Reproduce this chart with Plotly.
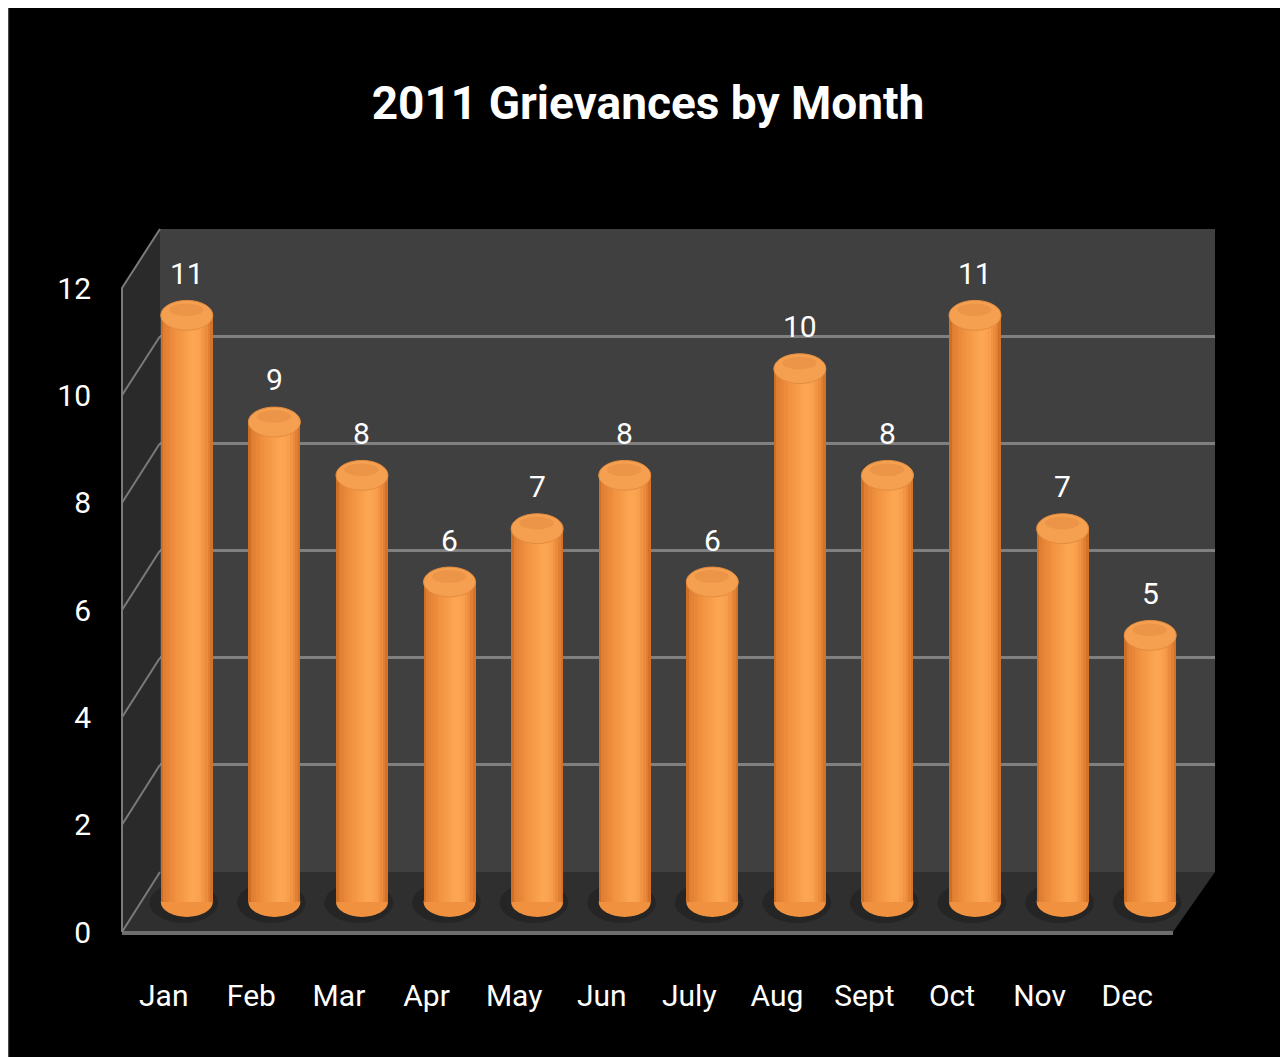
import plotly.graph_objects as go

# ---------------- data ----------------
months = ["Jan", "Feb", "Mar", "Apr", "May", "Jun", "July", "Aug", "Sept", "Oct", "Nov", "Dec"]
grievances = [11, 9, 8, 6, 7, 8, 6, 10, 8, 11, 7, 5]
y_ticks = [0, 2, 4, 6, 8, 10, 12]
title_text = "2011 Grievances by Month"

# ---------------- geometry (figure pixels) ----------------
W, H = 1280, 1049
FONT = "Liberation Sans Narrow, Arial Narrow, Roboto, sans-serif"

BACK_X0, BACK_X1, BACK_Y0, BACK_Y12 = 152, 1207, 864, 221     # back wall plane
FRONT_X0, FRONT_X1, FRONT_Y0, FRONT_Y12 = 112, 1163, 924, 280  # front (labels) plane
BARS_X0, BARS_X1, BARS_Y0, BARS_Y12 = 135, 1186, 894, 254      # bar plane
WALL_FRONT_X = 114
FLOOR_FRONT_RIGHT = 1165
YMAX = 12
BAR_YMIN = -0.7   # extra room below zero so the rounded bottoms are not clipped


def fx(p):
    return p / W


def fy(p):
    return 1 - p / H


def y_back(v):
    return BACK_Y0 + (BACK_Y12 - BACK_Y0) * v / YMAX


def y_front(v):
    return FRONT_Y0 + (FRONT_Y12 - FRONT_Y0) * v / YMAX


def y_bars(v):
    return BARS_Y0 + (BARS_Y12 - BARS_Y0) * v / YMAX


def path(points):
    return "M " + " L ".join(f"{fx(x):.5f},{fy(y):.5f}" for x, y in points) + " Z"


def line_path(points):
    return "M " + " L ".join(f"{fx(x):.5f},{fy(y):.5f}" for x, y in points)


shapes = []
# left side wall
shapes.append(dict(type="path", xref="paper", yref="paper", layer="below",
                   path=path([(WALL_FRONT_X, y_front(YMAX)), (BACK_X0, y_back(YMAX)),
                              (BACK_X0, y_back(0)), (WALL_FRONT_X, y_front(0))]),
                   fillcolor="#2a2a2a", line=dict(width=0)))
# back wall
shapes.append(dict(type="rect", xref="paper", yref="paper", layer="below",
                   x0=fx(BACK_X0), x1=fx(BACK_X1), y0=fy(y_back(0)), y1=fy(y_back(YMAX)),
                   fillcolor="#404040", line=dict(width=0)))
# floor
shapes.append(dict(type="path", xref="paper", yref="paper", layer="below",
                   path=path([(BACK_X0, y_back(0)), (BACK_X1, y_back(0)),
                              (FLOOR_FRONT_RIGHT, y_front(0)), (WALL_FRONT_X, y_front(0))]),
                   fillcolor="#2f2f2f", line=dict(width=0)))
# floor front edge
shapes.append(dict(type="path", xref="paper", yref="paper", layer="below",
                   path=line_path([(WALL_FRONT_X, y_front(0) + 1), (FLOOR_FRONT_RIGHT, y_front(0) + 1)]),
                   line=dict(color="#6e6e6e", width=4)))
# left wall outline and grid diagonals
shapes.append(dict(type="path", xref="paper", yref="paper", layer="below",
                   path=line_path([(BACK_X0, y_back(YMAX)), (WALL_FRONT_X, y_front(YMAX)),
                                   (WALL_FRONT_X, y_front(0))]),
                   line=dict(color="#7a7a7a", width=2)))
for v in y_ticks[:-1]:
    shapes.append(dict(type="path", xref="paper", yref="paper", layer="below",
                       path=line_path([(WALL_FRONT_X, y_front(v)), (BACK_X0, y_back(v))]),
                       line=dict(color="#7a7a7a", width=2)))
# thin grey frame line at left edge
shapes.append(dict(type="line", xref="paper", yref="paper", layer="above",
                   x0=0.0005, x1=0.0005, y0=0, y1=1, line=dict(color="#555555", width=1)))

# ---------------- cylinder bars ----------------
BW = 0.594          # bar width in category units
EH = 0.28           # half-height of cylinder ellipse in value units
stops = [(0.0, (196, 102, 34)), (0.07, (224, 126, 50)), (0.3, (241, 146, 63)),
         (0.6, (252, 166, 84)), (0.75, (250, 161, 79)), (0.9, (232, 135, 55)),
         (1.0, (204, 108, 38))]


def grad(t):
    for (t0, c0), (t1, c1) in zip(stops[:-1], stops[1:]):
        if t0 <= t <= t1:
            f = (t - t0) / (t1 - t0)
            c = [round(a + (b - a) * f) for a, b in zip(c0, c1)]
            return f"rgb({c[0]},{c[1]},{c[2]})"
    return "rgb(204,108,38)"


traces = []
# subplot 1: back wall grid (invisible trace to create the subplot)
traces.append(go.Scatter(x=[0.5], y=[0], mode="markers", marker=dict(opacity=0),
                         hoverinfo="skip", showlegend=False, xaxis="x", yaxis="y"))

N = 20
sw = BW / N
for k in range(N):
    width = sw * 1.6 if k < N - 1 else sw
    traces.append(go.Bar(x=months, y=grievances, width=width, offset=-BW / 2 + k * sw,
                         marker=dict(color=grad((k + 0.5) / N), line=dict(width=0)),
                         hoverinfo="skip" if k else "x+y", showlegend=False,
                         xaxis="x2", yaxis="y2"))

for i, v in enumerate(grievances):
    # floor shadow
    shapes.append(dict(type="circle", xref="x2", yref="y2", layer="below",
                       x0=i - BW * 0.72, x1=i + BW * 0.6, y0=-EH * 1.4, y1=EH * 1.3,
                       fillcolor="rgba(0,0,0,0.2)", line=dict(width=0)))
    # bottom rounded end
    shapes.append(dict(type="circle", xref="x2", yref="y2", layer="below",
                       x0=i - BW / 2, x1=i + BW / 2, y0=-EH, y1=EH,
                       fillcolor="#ef913f", line=dict(width=0)))
    # top face
    shapes.append(dict(type="circle", xref="x2", yref="y2", layer="above",
                       x0=i - BW / 2, x1=i + BW / 2, y0=v - EH, y1=v + EH,
                       fillcolor="#f5a050", line=dict(color="#e48c3e", width=1)))
    shapes.append(dict(type="circle", xref="x2", yref="y2", layer="above",
                       x0=i - BW * 0.34, x1=i + BW * 0.32, y0=v - EH * 0.05, y1=v + EH * 0.8,
                       fillcolor="rgba(222,128,56,0.35)", line=dict(width=0)))

annotations = [dict(x=m, y=v, xref="x2", yref="y2", yshift=42, text=str(v), showarrow=False,
                    font=dict(family=FONT, size=30, color="white"))
               for m, v in zip(months, grievances)]

# subplot 3: front plane axis labels
traces.append(go.Scatter(x=months, y=grievances, mode="markers", marker=dict(opacity=0),
                         hoverinfo="skip", showlegend=False, xaxis="x3", yaxis="y3"))

fig = go.Figure(data=traces)
fig.update_layout(
    template="none",
    width=W, height=H,
    margin=dict(l=0, r=0, t=0, b=0),
    paper_bgcolor="black", plot_bgcolor="rgba(0,0,0,0)",
    barmode="overlay", bargap=0,
    showlegend=False,
    title=dict(text=title_text, x=0.5, xanchor="center", xref="paper",
               y=fy(95), yanchor="middle", yref="container",
               font=dict(family=FONT, size=46, color="white", weight="bold")),
    xaxis=dict(domain=[fx(BACK_X0), fx(BACK_X1)], range=[0, 1], visible=False,
               anchor="y", automargin=False),
    yaxis=dict(domain=[fy(y_back(0)), fy(y_back(YMAX))], range=[-0.0001, 12.0001],
               anchor="x", tickvals=y_ticks, showticklabels=False, ticks="",
               showgrid=True, gridcolor="#808080", gridwidth=3, zeroline=False,
               showline=False, automargin=False),
    xaxis2=dict(domain=[fx(BARS_X0), fx(BARS_X1)], type="category", range=[-0.5, 11.5],
                anchor="y2", visible=False, automargin=False),
    yaxis2=dict(domain=[fy(y_bars(BAR_YMIN)), fy(y_bars(YMAX))], range=[BAR_YMIN, YMAX],
                anchor="x2", visible=False, automargin=False),
    xaxis3=dict(domain=[fx(FRONT_X0), fx(FRONT_X1)], type="category", range=[-0.5, 11.5],
                anchor="y3", showgrid=False, zeroline=False, showline=False,
                ticks="outside", ticklen=37, tickcolor="rgba(0,0,0,0)",
                tickfont=dict(family=FONT, size=30, color="white"), automargin=False),
    yaxis3=dict(domain=[fy(FRONT_Y0), fy(FRONT_Y12)], range=[0, YMAX], anchor="x3",
                tickvals=y_ticks, showgrid=False, zeroline=False, showline=False,
                ticks="outside", ticklen=22, tickcolor="rgba(0,0,0,0)",
                tickfont=dict(family=FONT, size=30, color="white"), automargin=False),
    shapes=shapes,
    annotations=annotations,
)

fig.write_html("out.html")
